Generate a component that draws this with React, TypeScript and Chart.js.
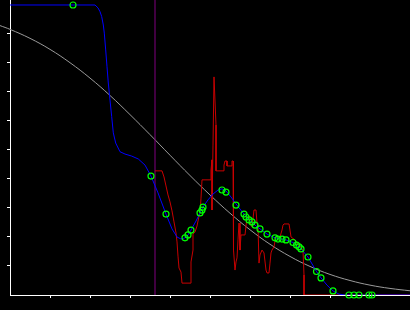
import React, { useEffect, useRef } from "react";
import { Chart, registerables } from "chart.js";

Chart.register(...registerables);

// ---- data (all in data units) ----
const Y_MAX = 1.0172;
const X_MIN = 0;
const X_MAX = 10;
const X_TICKS = [1, 2, 3, 4, 5, 6, 7, 8];
const Y_TICKS = [0.1, 0.2, 0.3, 0.4, 0.5, 0.6, 0.7, 0.8, 0.9];

const markerX = 3.625;

const greyX = [-0.25, 0, 0.5, 1, 1.5, 2, 2.5, 3, 3.5, 4, 4.5, 5, 5.5, 6, 6.5, 7, 7.5, 8, 8.5, 9, 9.5, 10];
const greyY = [0.929, 0.916, 0.885, 0.847, 0.801, 0.748, 0.688, 0.622, 0.553, 0.482, 0.412, 0.345, 0.282, 0.225, 0.175, 0.133, 0.0985, 0.071, 0.05, 0.034, 0.0227, 0.0146];

const blueX = [0, 2.125, 2.2, 2.25, 2.2925, 2.3325, 2.3575, 2.3925, 2.425, 2.4575, 2.5, 2.5425, 2.5825, 2.6425, 2.75, 2.875, 3.0425, 3.2075, 3.375, 3.525, 3.7, 3.9, 4.05, 4.175, 4.275, 4.375, 4.45, 4.525, 4.65, 4.75, 4.825, 4.95, 5.075, 5.2, 5.3, 5.4, 5.525, 5.65, 5.85, 5.975, 6.125, 6.25, 6.425, 6.625, 6.9, 7.075, 7.275, 7.45, 7.6625, 7.775, 7.925, 8.075, 8.225, 8.375, 10];
const blueY = [1.0, 1.0, 0.99, 0.977, 0.96, 0.931, 0.903, 0.845, 0.787, 0.731, 0.672, 0.615, 0.559, 0.524, 0.494, 0.486, 0.479, 0.469, 0.448, 0.41, 0.352, 0.279, 0.228, 0.2, 0.193, 0.197, 0.207, 0.224, 0.255, 0.283, 0.303, 0.328, 0.348, 0.362, 0.366, 0.359, 0.338, 0.314, 0.279, 0.259, 0.241, 0.228, 0.21, 0.197, 0.19, 0.181, 0.159, 0.131, 0.081, 0.059, 0.034, 0.014, 0.003, 0, 0];

const pointX = [1.575, 3.525, 3.9, 4.375, 4.45, 4.525, 4.75, 4.8, 4.825, 5.3, 5.4, 5.65, 5.85, 5.9, 5.975, 6.05, 6.125, 6.25, 6.425, 6.625, 6.7, 6.8, 6.9, 7.075, 7.1625, 7.225, 7.275, 7.45, 7.6625, 7.775, 8.075, 8.475, 8.6, 8.725, 8.975, 9.05];
const pointY = [1.0, 0.41, 0.279, 0.197, 0.207, 0.224, 0.283, 0.293, 0.303, 0.362, 0.355, 0.31, 0.279, 0.269, 0.259, 0.252, 0.241, 0.228, 0.21, 0.197, 0.193, 0.193, 0.19, 0.181, 0.172, 0.166, 0.159, 0.131, 0.081, 0.059, 0.014, 0, 0, 0, 0, 0];

const redX = [3.625, 3.8, 3.85, 3.9, 3.95, 4.0, 4.05, 4.1, 4.15, 4.175, 4.2, 4.225, 4.275, 4.3, 4.525, 4.525, 4.575, 4.575, 4.625, 4.675, 4.725, 4.75, 4.775, 4.8, 5.025, 5.025, 5.05, 5.05, 5.075, 5.1, 5.125, 5.15, 5.15, 5.35, 5.35, 5.375, 5.425, 5.425, 5.525, 5.55, 5.575, 5.575, 5.6, 5.625, 5.65, 5.675, 5.7, 5.725, 5.75, 5.775, 5.875, 5.925, 5.975, 6.0, 6.05, 6.1, 6.15, 6.175, 6.2, 6.225, 6.25, 6.3, 6.35, 6.4, 6.425, 6.475, 6.5, 6.525, 6.55, 6.6, 6.625, 6.65, 6.75, 6.8, 6.825, 6.85, 6.975, 7.0, 7.025, 7.125, 7.175, 7.25, 7.325, 7.35, 7.35, 10];
const redY = [0.428, 0.428, 0.407, 0.376, 0.345, 0.321, 0.29, 0.252, 0.214, 0.183, 0.134, 0.093, 0.079, 0.041, 0.041, 0.114, 0.155, 0.21, 0.217, 0.238, 0.272, 0.283, 0.334, 0.397, 0.397, 0.431, 0.466, 0.293, 0.517, 0.752, 0.752, 0.586, 0.428, 0.428, 0.448, 0.462, 0.462, 0.445, 0.445, 0.462, 0.462, 0.234, 0.155, 0.086, 0.114, 0.128, 0.19, 0.248, 0.155, 0.207, 0.207, 0.269, 0.266, 0.252, 0.234, 0.293, 0.293, 0.248, 0.234, 0.11, 0.138, 0.155, 0.145, 0.086, 0.076, 0.076, 0.11, 0.145, 0.155, 0.166, 0.186, 0.2, 0.2, 0.224, 0.241, 0.245, 0.245, 0.224, 0.2, 0.19, 0.179, 0.166, 0.155, 0.069, 0, 0];

const zip = (xs: number[], ys: number[]) => xs.map((x, i) => ({ x, y: ys[i] }));

export default function App() {
  const ref = useRef<HTMLCanvasElement>(null);

  useEffect(() => {
    document.body.style.margin = "0";
    document.body.style.background = "#000";
    const chart = new Chart(ref.current!, {
      type: "scatter",
      data: {
        datasets: [
          {
            data: zip(pointX, pointY),
            showLine: false,
            pointRadius: 3,
            pointBorderWidth: 1.2,
            pointBorderColor: "#00ff00",
            pointBackgroundColor: "rgba(0,0,0,0)",
            clip: false as any,
            order: 0,
          },
          {
            data: zip(blueX, blueY),
            showLine: true,
            borderColor: "#0000ff",
            borderWidth: 1,
            pointRadius: 0,
            tension: 0,
            order: 1,
          },
          {
            data: zip(redX, redY),
            showLine: true,
            borderColor: "#c80000",
            borderWidth: 1,
            pointRadius: 0,
            tension: 0,
            order: 2,
          },
          {
            data: [
              { x: markerX, y: 0 },
              { x: markerX, y: Y_MAX },
            ],
            showLine: true,
            borderColor: "#800080",
            borderWidth: 1,
            pointRadius: 0,
            order: 3,
          },
          {
            data: zip(greyX, greyY),
            showLine: true,
            borderColor: "#9a9a9a",
            borderWidth: 1,
            pointRadius: 0,
            tension: 0.4,
            clip: false as any,
            order: 4,
          },
        ],
      },
      options: {
        animation: false,
        responsive: false,
        devicePixelRatio: 1,
        layout: { autoPadding: false, padding: { left: 7, bottom: 12, top: 0, right: 0 } },
        plugins: { legend: { display: false }, tooltip: { enabled: false } },
        scales: {
          x: {
            type: "linear",
            min: X_MIN,
            max: X_MAX,
            afterBuildTicks: (s: any) => {
              s.ticks = X_TICKS.map((v) => ({ value: v }));
            },
            ticks: { display: false },
            grid: { drawOnChartArea: false, drawTicks: true, tickLength: 3, color: "#ffffff", lineWidth: 1 },
            border: { display: true, color: "#ffffff", width: 1 },
          },
          y: {
            type: "linear",
            min: 0,
            max: Y_MAX,
            afterBuildTicks: (s: any) => {
              s.ticks = Y_TICKS.map((v) => ({ value: v }));
            },
            ticks: { display: false },
            grid: { drawOnChartArea: false, drawTicks: true, tickLength: 3, color: "#ffffff", lineWidth: 1 },
            border: { display: true, color: "#ffffff", width: 1 },
          },
        },
      },
    } as any);
    return () => chart.destroy();
  }, []);

  return (
    <div style={{ position: "fixed", left: 0, top: 0, width: 410, height: 310, background: "#000" }}>
      <canvas ref={ref} width={410} height={310} style={{ display: "block" }} />
    </div>
  );
}
